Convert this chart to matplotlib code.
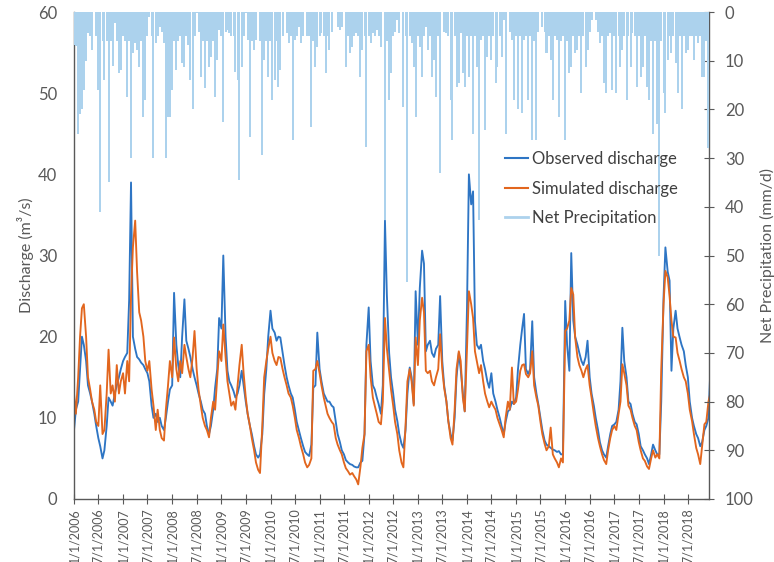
import matplotlib
matplotlib.use('Agg')
import matplotlib.pyplot as plt
from matplotlib.lines import Line2D
import pandas as pd

plt.rcParams['font.family'] = ['Lato', 'DejaVu Sans']

# half-monthly readings (1st and 15th of each month), one row per year 2006..2018
observed = [
    8.5, 11, 12, 16, 20, 19, 17, 14, 13, 12, 10.5, 9, 7.5, 6.5, 5, 6, 9, 12.5, 12, 11.5, 13, 14, 15, 16,
    17, 17.5, 18, 24.5, 39, 20, 18.5, 17.5, 17.2, 16.8, 16.5, 16, 15.5, 14.5, 11.5, 10, 10.5, 9.5, 10, 9, 8.5, 10, 12, 13.5,
    14, 25.4, 19, 16.5, 15, 20, 24.6, 19.5, 18.5, 17.5, 16, 15, 14, 13, 12, 11, 10.5, 9, 8, 9, 11, 13.7, 16, 22.3,
    21, 30, 20, 15.8, 14.5, 14, 13.3, 12.5, 13, 14, 15.8, 14, 12, 10.5, 9, 8, 6.5, 5.5, 5.1, 5.5, 8, 12.9, 16, 20,
    23.2, 21, 20.5, 19.5, 20, 19.9, 18, 16.5, 15, 14, 13, 12.5, 11, 9.5, 8.4, 7.5, 6.5, 5.8, 5.5, 5.3, 6.7, 13.7, 14, 20.5,
    16, 14.5, 13, 12.5, 12, 12, 11.5, 11.3, 9.5, 8, 7, 6, 5.5, 4.8, 4.5, 4.3, 4.2, 4, 3.9, 3.9, 4.5, 4.7, 8, 19,
    23.6, 17, 14, 13.5, 12.5, 11.7, 10.5, 14, 34.3, 25.2, 18, 15, 13, 11, 9.6, 8, 6.8, 6.3, 8.5, 13, 16.2, 15, 11.7, 25.6,
    19, 26, 30.6, 29, 18.2, 19, 19.5, 18, 17.5, 18.5, 19, 25, 17, 14, 12, 9.6, 8, 7.2, 10, 15, 18, 16, 13, 10.8,
    23.6, 40, 36.3, 37.9, 21.9, 19, 18.5, 19, 17, 16, 14.5, 13.7, 15.5, 13, 12, 11, 10, 9, 8, 9.5, 10.8, 11, 12, 11.7,
    12.5, 16, 19, 21, 22.8, 16, 15.4, 16, 21.9, 15, 13, 11.7, 10, 8.5, 7.2, 6.7, 6.5, 6.3, 6.1, 6, 5.8, 5.9, 5.5, 5.5,
    24.4, 19, 15.8, 30.3, 22, 20, 19, 18, 17, 16.5, 17.5, 19.5, 15, 13, 11.5, 10, 8.5, 7, 6, 5.5, 5.1, 6.5, 8, 9,
    9.2, 9.5, 11, 14.5, 21.1, 17, 15, 12, 11.7, 10.5, 9.5, 9.2, 8, 6.5, 6, 5.5, 5, 4.3, 5.5, 6.7, 6, 5.5, 5.5, 12,
    24.8, 31, 28, 26.9, 15.8, 21, 23.2, 21, 19.9, 19, 18.2, 16.5, 15, 12, 10, 9, 8, 7.5, 6.5, 7, 8.5, 9, 10, 15.8,
]

simulated = [
    13, 10.5, 15, 20, 23.5, 24, 20, 15, 13.5, 12, 11, 9.5, 9, 14, 8, 8.5, 13, 18.4, 13, 14, 12, 16.5, 13, 14.5,
    15.5, 13, 17, 14.5, 25, 31, 34.3, 28, 23, 22, 20, 17, 15.8, 17, 13.5, 11.5, 8.5, 11, 8.5, 7.5, 7.2, 11, 14, 17,
    15, 19.9, 16, 14.5, 17, 15.5, 19, 17.5, 16, 15, 17.5, 20.7, 16, 13.5, 11.5, 10, 9, 8.5, 7.6, 10, 12, 11, 15, 18.2,
    17, 21.5, 17.5, 14.5, 13, 11.5, 12, 11, 14, 16.5, 19, 15.5, 12.5, 10.5, 9, 7.5, 6, 4.5, 3.6, 3.2, 9, 15, 17, 18.5,
    20, 18, 17, 16.5, 17.5, 17.4, 16, 15, 14, 13, 12.5, 11.5, 10, 8.5, 7.5, 6.5, 5.5, 4.5, 3.9, 4.2, 5, 15.8, 16, 17,
    15.5, 14, 12.5, 11.5, 10.5, 10, 9.5, 9.2, 7.5, 6.7, 6, 5.5, 4.5, 3.8, 3.4, 3, 3.2, 2.8, 2.4, 1.8, 4, 6.3, 8, 18.2,
    19, 15, 12.5, 11.5, 10.5, 9.5, 9.2, 12, 22.3, 18.6, 15.8, 13.5, 11.5, 9.5, 8, 6, 4.5, 3.9, 9, 14.5, 16, 14.5, 11.5, 19.9,
    16.5, 22, 24.8, 23, 15.8, 15.5, 15.8, 14.5, 14, 15, 16, 20.3, 16, 13.7, 12, 9.6, 7.5, 6.7, 11, 16, 18.2, 17, 12.5, 10.8,
    18.6, 25.6, 24, 22.3, 18.2, 17, 15.5, 16.5, 14.5, 13, 12, 11.3, 12, 11.5, 11, 10, 9.2, 8.5, 7.6, 10, 12, 11, 16.2, 11.7,
    12, 13.5, 15.8, 16.5, 16.6, 15.4, 15, 15.5, 18.2, 14, 12.5, 11.5, 9.5, 8, 6.8, 6, 6.5, 8.8, 5.5, 5, 4.5, 3.9, 5, 4.5,
    20.7, 21, 22, 26, 25.2, 19.9, 17.5, 16.5, 15.8, 15, 16, 16.5, 14, 12.5, 10.5, 9, 7.5, 6.5, 5.5, 4.8, 4.3, 6, 7.5, 8.5,
    9, 8.5, 10.5, 12, 16.6, 15.5, 14, 11.5, 11, 10, 9, 8.5, 7, 6, 5, 4.7, 4, 3.7, 5, 6, 5.1, 5.5, 5, 16,
    24, 28.1, 27.3, 25, 22, 20, 19.9, 18, 17, 16, 15, 14.5, 13, 11, 9.6, 8, 6.3, 5.5, 4.3, 6.5, 9.2, 9.5, 12, 13,
]

net_precip = [
    6.8, 7, 25, 21, 20, 16, 10, 4.4, 5, 7.8, 0, 5, 16, 41, 6, 14, 6, 35, 6, 11, 2.3, 6, 12.6, 11.9,
    5, 6, 17.4, 6, 30, 8.5, 6.4, 7.8, 11.2, 6, 21.5, 18, 5, 1, 5, 30, 6.4, 5, 3, 4, 6.4, 30, 21.5, 21.5,
    16, 6, 12, 6, 5, 10.5, 11.2, 5, 6.8, 14, 20, 5, 0.3, 4, 13.3, 6, 15.7, 6, 11.2, 9.2, 6, 17.4, 9.9, 3.7,
    5, 22.5, 4, 3.7, 4.4, 5, 5, 12.3, 14, 34.5, 11.2, 5, 0.3, 5.7, 25.6, 6, 7.8, 5.7, 0, 6, 29.4, 9.9, 6, 13.3,
    6, 18, 14, 6, 15.3, 12, 5, 0, 4.4, 6.4, 5, 26.3, 5.7, 5, 3, 6.4, 5, 0, 5, 5, 23.6, 6, 11.2, 7.1,
    5, 4.4, 5, 12.6, 5, 7.8, 4, 0, 0, 3, 3.7, 3, 0, 11.2, 5, 8.5, 7.1, 5, 4.4, 5, 13.3, 7.8, 5, 27.7,
    5, 6.4, 4.4, 5, 3.7, 5, 7.1, 0, 42.7, 6, 18, 12.6, 5, 4, 1.6, 4.4, 0, 19.5, 5, 55.4, 5, 6.4, 11.2, 21.5,
    5, 7.1, 13.3, 5, 3, 7.8, 5, 13.3, 9.9, 17.4, 5, 33, 0, 4, 4.4, 5, 18, 26.3, 5, 15.3, 14.6, 4.4, 12.6, 15.3,
    5, 13.3, 5, 25, 5, 11.2, 42.7, 5.7, 5, 24.2, 9.2, 5, 9.9, 5, 14.6, 11.2, 5, 9.2, 1.6, 25, 0, 4, 5.7, 18,
    5, 20, 5, 20.8, 5.7, 5, 18, 5, 26.3, 6, 26.3, 4, 0, 3, 4, 8.5, 5, 9.9, 18, 5, 5.7, 21.5, 6, 5,
    26.3, 6, 12.6, 11.2, 5, 8.5, 7.8, 5, 16.7, 5, 11.2, 7.8, 4, 1.6, 0, 1.6, 4, 6.4, 5, 14.6, 16.7, 5, 4.4, 16,
    5, 16.7, 5, 11.2, 7.8, 5, 18, 5, 11.2, 4.4, 5, 15.3, 5, 13.3, 11.2, 5, 15.3, 18, 6, 25, 6, 22.9, 50, 6,
    16.7, 20.8, 9.9, 5, 8.5, 5, 10.5, 16.7, 5, 20, 5, 8.5, 7.8, 5, 5, 9.9, 5, 6.4, 5, 13.3, 13.3, 6, 28, 5,
]

tick_labels = [f'{m}/1/{y}' for y in range(2006, 2019) for m in (1, 7)]

BLUE = '#2e75c4'
ORANGE = '#e2661e'
RAIN = '#acd2ed'
GREY = '#595959'

dates = pd.date_range('2006-01-01', periods=len(observed), freq='SMS')
tick_dates = pd.to_datetime(tick_labels, format='%m/%d/%Y')

fig = plt.figure(figsize=(7.74, 5.62), dpi=100)
ax = fig.add_axes([0.0956, 0.1121, 0.8204, 0.8665])
ax2 = ax.twinx()

ax.plot(dates, observed, color=BLUE, lw=1.35)
ax.plot(dates, simulated, color=ORANGE, lw=1.35)
ax2.bar(dates, net_precip, width=15, color=RAIN, linewidth=0, zorder=3)

ax.set_xlim(pd.Timestamp('2006-01-01'), pd.Timestamp('2018-12-05'))
ax.set_ylim(0, 60)
ax.set_yticks(range(0, 61, 10))
ax2.set_ylim(100, 0)
ax2.set_yticks(range(0, 101, 10))

ax.set_xticks(tick_dates)
ax.set_xticklabels(tick_labels, rotation=90, fontsize=9, color=GREY)

for s in ['top', 'right']:
    ax.spines[s].set_visible(False)
for s in ['top', 'left', 'bottom']:
    ax2.spines[s].set_visible(False)
for sp in [ax.spines['left'], ax.spines['bottom'], ax2.spines['right']]:
    sp.set_color(GREY)
    sp.set_linewidth(1.0)

ax.tick_params(axis='y', length=0, labelsize=12, labelcolor=GREY, pad=12)
ax.tick_params(axis='x', direction='inout', length=7, color=GREY, pad=3)
ax2.tick_params(axis='y', direction='inout', length=7, color=GREY, labelsize=12, labelcolor=GREY, pad=8)

ax.set_ylabel('Discharge (m³/s)', fontsize=11.5, color=GREY)
ax.yaxis.set_label_coords(-0.063, 0.5)
ax2.set_ylabel('Net Precipitation (mm/d)', fontsize=11.5, color=GREY, rotation=90)
ax2.yaxis.set_label_coords(1.081, 0.5)

handles = [Line2D([], [], color=BLUE, lw=1.5),
           Line2D([], [], color=ORANGE, lw=1.5),
           Line2D([], [], color=RAIN, lw=2)]
leg = ax2.legend(handles, ['Observed discharge', 'Simulated discharge', 'Net Precipitation'],
                 loc='upper left', bbox_to_anchor=(505 / 774, 1 - 151 / 562),
                 bbox_transform=fig.transFigure, frameon=False, borderpad=0,
                 borderaxespad=0, handlelength=1.4, handletextpad=0.25,
                 labelspacing=0.82, fontsize=12)
for t in leg.get_texts():
    t.set_color('#404040')
leg.set_zorder(5)

fig.savefig('out.png', dpi=100)
